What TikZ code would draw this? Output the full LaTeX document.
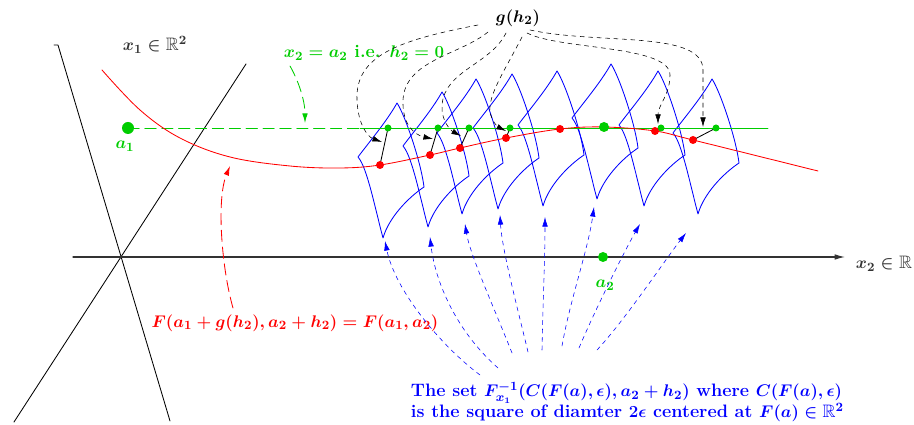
\documentclass[tikz,border=0pt]{standalone}
\usepackage{amsmath, amssymb}
\usepackage{tikz}
\usetikzlibrary{arrows.meta}
\definecolor{ptgreen}{RGB}{0,205,0}
\tikzset{
    tip/.style={-{Latex[length=2.4mm, width=1.4mm]}},
    lbl/.style={font=\fontsize{12.8}{15}\selectfont\bfseries\boldmath},
    fiber/.pic={
        \draw[blue, semithick] (0,0)
            .. controls (-10,18) and (-27,38) .. (-39,54)
            .. controls (-30,64) and (-22,105) .. (-14,135)
            .. controls (-8,114) and (12,94) .. (27,84)
            .. controls (24,59) and (8,12) .. cycle;
    }
}
\begin{document}
\begin{tikzpicture}[x=0.025cm, y=-0.025cm, line join=round, line cap=round]
        \useasboundingbox (0,0) rectangle (914,425);
        % the two lines through the origin and the x_2 axis
        \draw[semithick] (54,45) -- (58,45) -- (170,421);
        \draw[semithick] (246,64) -- (14,422);
        \draw[thick, black!80, -{Latex[length=2.6mm, width=1.4mm]}] (73,257) -- (845,257);
        \node[lbl, black!80, right] (x2lbl) at (851,264) {$x_2\in\mathbb{R}$};
        \node[lbl, black!80] (x1lbl) at (155,45) {$x_1\in\mathbb{R}^2$};
        % the sets F^{-1}_{x_1}
        \foreach \tx/\ty in {397/103, 442/92, 476/79, 512/74, 557/71, 611/64, 658/71, 712/79}
            \pic at (\tx,\ty) {fiber};
        % the line x_2 = a_2
        \draw[ptgreen, semithick, dash pattern=on 8pt off 4pt] (128,128) -- (360,128);
        \draw[ptgreen, semithick] (360,128) -- (768,128);
        % the level curve of F
        \draw[red, semithick] plot[smooth, tension=0.6] coordinates {(102,70) (140,110) (180,138)
            (230,157) (290,166) (340,168) (380,165) (430,155) (460,148) (506,138) (560,129)
            (604,127) (655,131) (693,140) (818,171)};
        % points
        \fill[ptgreen] (128,128) circle (6);
        \node[lbl, ptgreen] (a1) at (125,146) {$a_1$};
        \fill[ptgreen] (603,257) circle (5);
        \node[lbl, ptgreen] (a2) at (605,285) {$a_2$};
        \fill[ptgreen] (604,127) circle (5);
        \foreach \n/\gx/\rx/\ry in {1/388/380/165, 2/438/430/155, 3/469/460/148,
                                    4/510/506/138, 6/661/655/131, 7/716/693/140} {
            \coordinate (g\n) at (\gx,128);
            \coordinate (r\n) at (\rx,\ry);
            \draw[semithick] (g\n) -- (r\n);
            \fill[ptgreen] (g\n) circle (3.5);
            \fill[red] (r\n) circle (4);
        }
        \fill[red] (560,129) circle (4);
        % labels and their arrows
        \node[lbl, ptgreen] (h0lbl) at (364,53) {$x_2=a_2$ i.e. $h_2=0$};
        \coordinate (h0tip) at (305,123);
        \draw[ptgreen, semithick, dash pattern=on 8pt off 4pt, tip]
            (290,66) .. controls (298,80) and (305,100) .. (h0tip);
        \node[lbl, red] (flbl) at (295,323) {$F(a_1+g(h_2),a_2+h_2)=F(a_1,a_2)$};
        \coordinate (ftip) at (230,166);
        \draw[red, semithick, dash pattern=on 8pt off 4pt, tip]
            (233,308) .. controls (222,270) and (216,200) .. (ftip);
        \node[lbl] (glbl) at (518,18) {$g(h_2)$};
        \draw[dashed, tip] (478,25) .. controls (400,40) and (355,55) .. (357,100)
            .. controls (358,125) and (368,137) .. (382,142);
        \draw[dashed, tip] (488,32) .. controls (460,55) and (405,60) .. (403,100)
            .. controls (402,125) and (415,135) .. (433,139);
        \draw[dashed, tip] (506,33) .. controls (490,65) and (445,70) .. (442,105)
            .. controls (441,120) and (450,130) .. (461,136);
        \draw[dashed, tip] (522,37) .. controls (505,70) and (488,95) .. (490,112)
            .. controls (492,122) and (498,127) .. (506,131);
        \draw[dashed, tip] (527,33) .. controls (560,50) and (670,45) .. (670,75)
            .. controls (670,95) and (658,105) .. (658,124);
        \draw[dashed, tip] (530,30) .. controls (600,45) and (703,30) .. (703,70)
            -- (703,127);
        % the blue text and its arrows
        \node[lbl, blue, right, align=left] (setlbl) at (406,402)
            {The set $F_{x_1}^{-1}(C(F(a),\epsilon),a_2+h_2)$ where $C(F(a),\epsilon)$\\
             is the square of diamter $2\epsilon$ centered at $F(a)\in\mathbb{R}^2$};
        \foreach \sx/\sy/\ax/\ay/\bx/\by/\ex/\ey in {
                480/375/440/345/395/290/385/241,
                498/368/455/330/435/280/430/237,
                512/353/495/310/470/255/465/224,
                528/352/518/310/502/250/500/215,
                542/350/543/300/545/260/545/217,
                562/346/570/300/588/250/594/207,
                579/348/595/310/625/250/640/224,
                597/350/625/320/665/260/686/233}
            \draw[blue, dashed, tip] (\sx,\sy) .. controls (\ax,\ay) and (\bx,\by) .. (\ex,\ey);
    \end{tikzpicture}
\end{document}
